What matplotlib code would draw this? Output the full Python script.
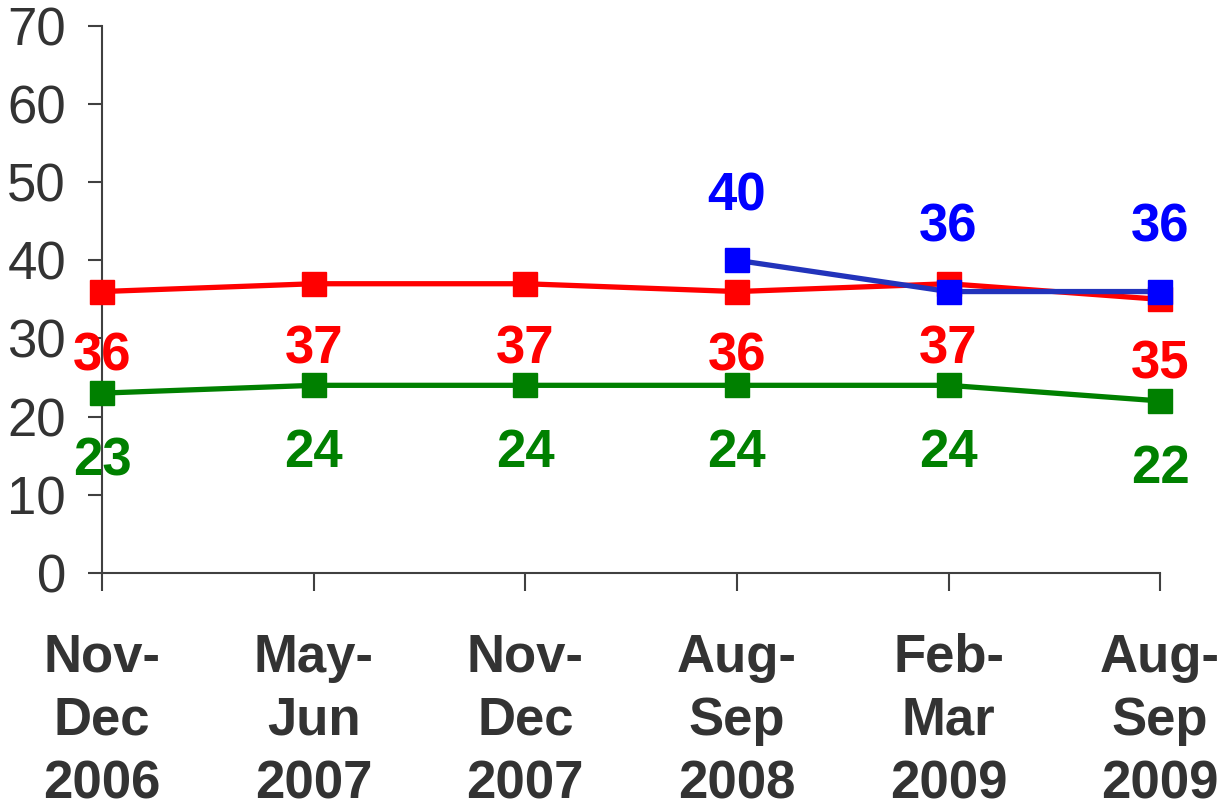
import numpy as np
import matplotlib
matplotlib.use("Agg")
import matplotlib.pyplot as plt

plt.rcParams['font.family'] = ['Liberation Sans', 'DejaVu Sans']

periods = ["Nov-\nDec\n2006", "May-\nJun\n2007", "Nov-\nDec\n2007",
           "Aug-\nSep\n2008", "Feb-\nMar\n2009", "Aug-\nSep\n2009"]
red_vals = [36, 37, 37, 36, 37, 35]
green_vals = [23, 24, 24, 24, 24, 22]
blue_vals = [np.nan, np.nan, np.nan, 40, 36, 36]

x = np.arange(len(periods))

fig = plt.figure(figsize=(12.29, 8.08), dpi=100, facecolor='w')
ax = fig.add_axes([0.083, 0.291, 0.861, 0.677])

ax.plot(x, red_vals, color='#ff0000', lw=3.8, marker='s', ms=17,
        mec='#ff0000', mfc='#ff0000', clip_on=False, zorder=3)
ax.plot(x, green_vals, color='#008000', lw=3.8, marker='s', ms=17,
        mec='#008000', mfc='#008000', clip_on=False, zorder=3)
ax.plot(x, blue_vals, color='#2233bb', lw=3.8, marker='s', ms=17,
        mec='#0000ff', mfc='#0000ff', clip_on=False, zorder=4)

lab_size = 38
for xi, v in zip(x, red_vals):
    ax.annotate(str(v), (xi, v), xytext=(0, -47), textcoords='offset points',
                ha='center', va='center', fontsize=lab_size, fontweight='bold',
                color='#ff0000', annotation_clip=False)
for xi, v in zip(x, green_vals):
    ax.annotate(str(v), (xi, v), xytext=(0, -49), textcoords='offset points',
                ha='center', va='center', fontsize=lab_size, fontweight='bold',
                color='#008000', annotation_clip=False)
for xi, v in zip(x, blue_vals):
    if np.isnan(v):
        continue
    ax.annotate(str(v), (xi, v), xytext=(0, 46), textcoords='offset points',
                ha='center', va='center', fontsize=lab_size, fontweight='bold',
                color='#0000ff', annotation_clip=False)

ax.set_xlim(0, 5)
ax.set_ylim(0, 70)
ax.set_yticks(range(0, 71, 10))
ax.set_xticks(x)
ax.set_xticklabels(periods, fontsize=38, fontweight='bold', color='#333333',
                   linespacing=1.34)
ax.tick_params(axis='y', labelsize=38, colors='#404040', labelcolor='#333333',
               length=10, width=1.5, pad=16, direction='out')
ax.tick_params(axis='x', colors='#404040', labelcolor='#333333',
               length=13, width=1.5, pad=30, direction='out')

for s in ('top', 'right'):
    ax.spines[s].set_visible(False)
for s in ('left', 'bottom'):
    ax.spines[s].set_color('#404040')
    ax.spines[s].set_linewidth(1.5)

fig.savefig('out.png', dpi=100)
